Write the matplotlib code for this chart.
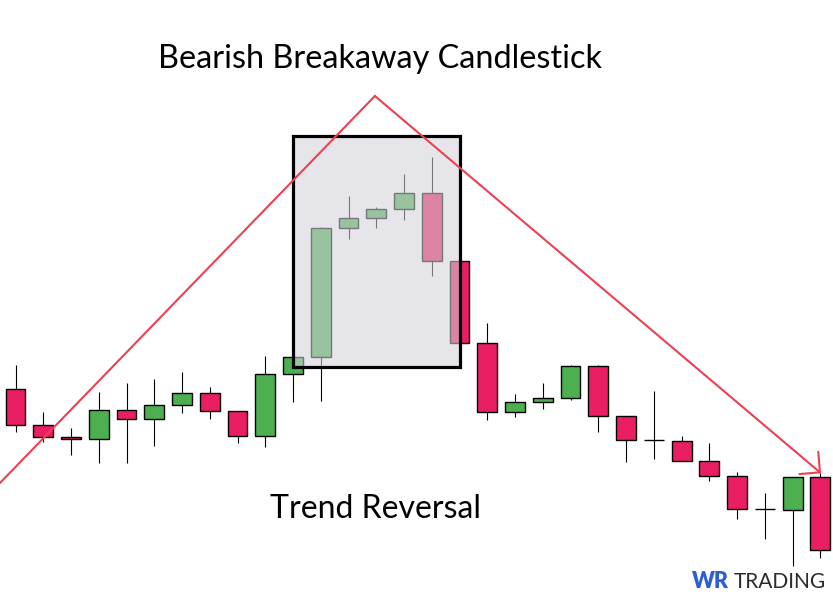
import numpy as np
import matplotlib
matplotlib.use('Agg')
import matplotlib.pyplot as plt
from matplotlib.patches import Rectangle

# candle data (open, high, low, close)
opens  = [215, 179, 167, 165, 194, 185, 199, 211, 193, 168, 230, 247, 376, 386, 395,
          411, 343, 261, 192, 202, 206, 238, 188, 164, 163, 143, 128, 95, 94, 127]
highs  = [239, 192, 176, 212, 221, 225, 232, 217, 193, 248, 247, 377, 408, 397, 430,
          447, 343, 281, 210, 221, 239, 239, 188, 213, 168, 161, 132, 111, 127, 131]
lows   = [172, 162, 149, 141, 141, 158, 191, 185, 161, 157, 202, 203, 365, 376, 384,
          328, 261, 184, 187, 195, 204, 172, 142, 145, 143, 123, 85, 65, 38, 46]
closes = [179, 167, 165, 194, 185, 199, 211, 193, 168, 230, 247, 376, 386, 395, 411,
          343, 261, 192, 202, 206, 238, 188, 164, 164, 143, 128, 95, 95, 127, 54]

# highlighted pattern box (candle index range, price range)
box_x = [10, 16]
box_y = [236.7, 468]

# trend lines (candle index, price)
trend_x = [-0.56, 12.95, 29.03]
trend_y = [121, 508, 130.7]

title = "Bearish Breakaway Candlestick"
label = "Trend Reversal"

green = '#4caf50'
red = '#e91e63'
line_red = '#ef4050'

fig = plt.figure(figsize=(8.33, 6.04), dpi=100)
ax = fig.add_axes([0, 0, 1, 1])
ax.set_xlim(-0.5586, 29.459)
ax.set_ylim(0, 604)
ax.axis('off')

x = np.arange(len(opens))
o = np.array(opens)
c = np.array(closes)
width = 0.72

ax.vlines(x, lows, highs, color='black', lw=0.8, zorder=1)
body = c != o
cols = np.where(c > o, green, red)
ax.bar(x[body], np.abs(c - o)[body], bottom=np.minimum(o, c)[body], width=width,
       color=cols[body], edgecolor='black', linewidth=1.0, zorder=2)
ax.hlines(o[~body], x[~body] - width / 2, x[~body] + width / 2,
          color='black', lw=1.0, zorder=2)

# translucent box over the pattern
ax.add_patch(Rectangle((box_x[0], box_y[0]), box_x[1] - box_x[0], box_y[1] - box_y[0],
                       facecolor='#d3d4db', alpha=0.565, edgecolor='none', zorder=3))
ax.add_patch(Rectangle((box_x[0], box_y[0]), box_x[1] - box_x[0], box_y[1] - box_y[0],
                       facecolor='none', edgecolor='black', linewidth=2.3, zorder=4))

ax.plot(trend_x[:2], trend_y[:2], color=line_red, lw=1.5, zorder=5)
ax.annotate('', xy=(trend_x[2], trend_y[2]), xytext=(trend_x[1], trend_y[1]),
            arrowprops=dict(arrowstyle='->,head_length=0.7,head_width=0.7',
                            color=line_red, lw=1.5, mutation_scale=15,
                            shrinkA=0, shrinkB=0), zorder=5)

ax.text(380 / 833, 1 - 59 / 604, title, transform=ax.transAxes, ha='center', va='center',
        fontsize=23.3, family='Lato', color='black')
ax.text(375 / 833, 1 - 509 / 604, label, transform=ax.transAxes, ha='center', va='center',
        fontsize=23, family='Lato', color='black')

# logo
ax.text(692 / 833, 1 - 582 / 604, 'WR', transform=ax.transAxes, ha='left', va='center',
        fontsize=15.5, family='Lato', weight='heavy', color='#2d5fd3')
ax.text(826 / 833, 1 - 582 / 604, 'TRADING', transform=ax.transAxes, ha='right', va='center',
        fontsize=15, family='Lato', weight='normal', color='#2b2b2b')

fig.savefig('out.png', dpi=100)
